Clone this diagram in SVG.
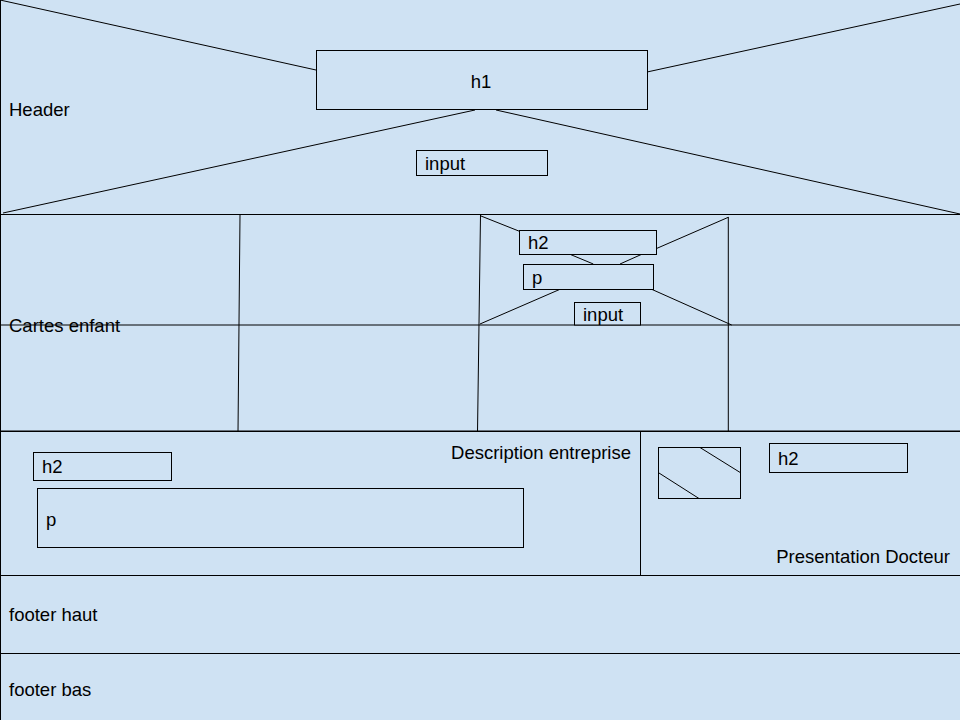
<svg xmlns="http://www.w3.org/2000/svg" width="960" height="720" viewBox="0 0 960 720">
<style>
.sec{fill:#cfe2f3;stroke:#000;stroke-width:1}
.box{fill:#cfe2f3;stroke:#000;stroke-width:1}
.ln{stroke:#000;stroke-width:1;fill:none}
text{font-family:"Liberation Sans",Arial,sans-serif;font-size:18.5px;fill:#000}
</style>
<rect x="0" y="0" width="960" height="720" fill="#cfe2f3"/>
<g id="header">
<rect class="sec" x="0.5" y="-1" width="962" height="215.5"/>
<line class="ln" x1="0" y1="0" x2="316" y2="70"/>
<line class="ln" x1="960" y1="4" x2="647" y2="72"/>
<line class="ln" x1="475" y1="110" x2="3" y2="213"/>
<line class="ln" x1="496" y1="110" x2="960" y2="214"/>
<text x="9" y="116">Header</text>
</g>
<g id="h1">
<rect class="box" x="316.5" y="50.5" width="331" height="59"/>
<text x="481" y="88" text-anchor="middle">h1</text>
</g>
<g id="header-input">
<rect class="box" x="416.5" y="150.5" width="131" height="25"/>
<text x="425" y="170">input</text>
</g>
<g id="cartes">
<rect class="sec" x="0.5" y="214.5" width="962" height="216.5"/>
<line class="ln" x1="0" y1="325" x2="960" y2="325"/>
<line class="ln" x1="240" y1="215" x2="238" y2="432"/>
<line class="ln" x1="480.5" y1="215" x2="477.5" y2="432"/>
<line class="ln" x1="728.3" y1="217" x2="728.3" y2="431"/>
<line class="ln" x1="481" y1="216" x2="520" y2="231.5"/>
<line class="ln" x1="656.5" y1="248.5" x2="728.3" y2="217.3"/>
<line class="ln" x1="570" y1="254.3" x2="593.3" y2="264"/>
<line class="ln" x1="620" y1="264" x2="641.7" y2="254.3"/>
<line class="ln" x1="560" y1="289.3" x2="480" y2="324"/>
<line class="ln" x1="651.7" y1="289.3" x2="731.7" y2="325"/>
<text x="9" y="332">Cartes enfant</text>
</g>
<g id="card-h2">
<rect class="box" x="519.5" y="230.5" width="137" height="24"/>
<text x="528" y="249">h2</text>
</g>
<g id="card-p">
<rect class="box" x="523.5" y="264.5" width="130" height="25"/>
<text x="532" y="284">p</text>
</g>
<g id="card-input">
<rect class="box" x="574.5" y="302.5" width="66" height="22.5"/>
<text x="583" y="321">input</text>
</g>
<g id="description">
<rect class="sec" x="0.5" y="431.5" width="640" height="144"/>
<text x="631" y="459" text-anchor="end">Description entreprise</text>
</g>
<g id="desc-h2">
<rect class="box" x="33.5" y="452.5" width="138" height="28"/>
<text x="42" y="473">h2</text>
</g>
<g id="desc-p">
<rect class="box" x="37.5" y="488.5" width="486" height="59"/>
<text x="46" y="526">p</text>
</g>
<g id="presentation">
<rect class="sec" x="640.5" y="431.5" width="322" height="144"/>
<text x="950" y="563" text-anchor="end">Presentation Docteur</text>
</g>
<g id="doc-img">
<rect class="box" x="658.5" y="447.5" width="82" height="51"/>
<line class="ln" x1="700" y1="447.5" x2="740.5" y2="472.7"/>
<line class="ln" x1="658.5" y1="472.7" x2="699" y2="498.5"/>
</g>
<g id="doc-h2">
<rect class="box" x="769.5" y="443.5" width="138" height="29"/>
<text x="778" y="465">h2</text>
</g>
<g id="footer-haut">
<rect class="sec" x="0.5" y="575.5" width="962" height="78"/>
<text x="9" y="621">footer haut</text>
</g>
<g id="footer-bas">
<rect class="sec" x="0.5" y="653.5" width="962" height="70"/>
<text x="9" y="696">footer bas</text>
</g>
</svg>
